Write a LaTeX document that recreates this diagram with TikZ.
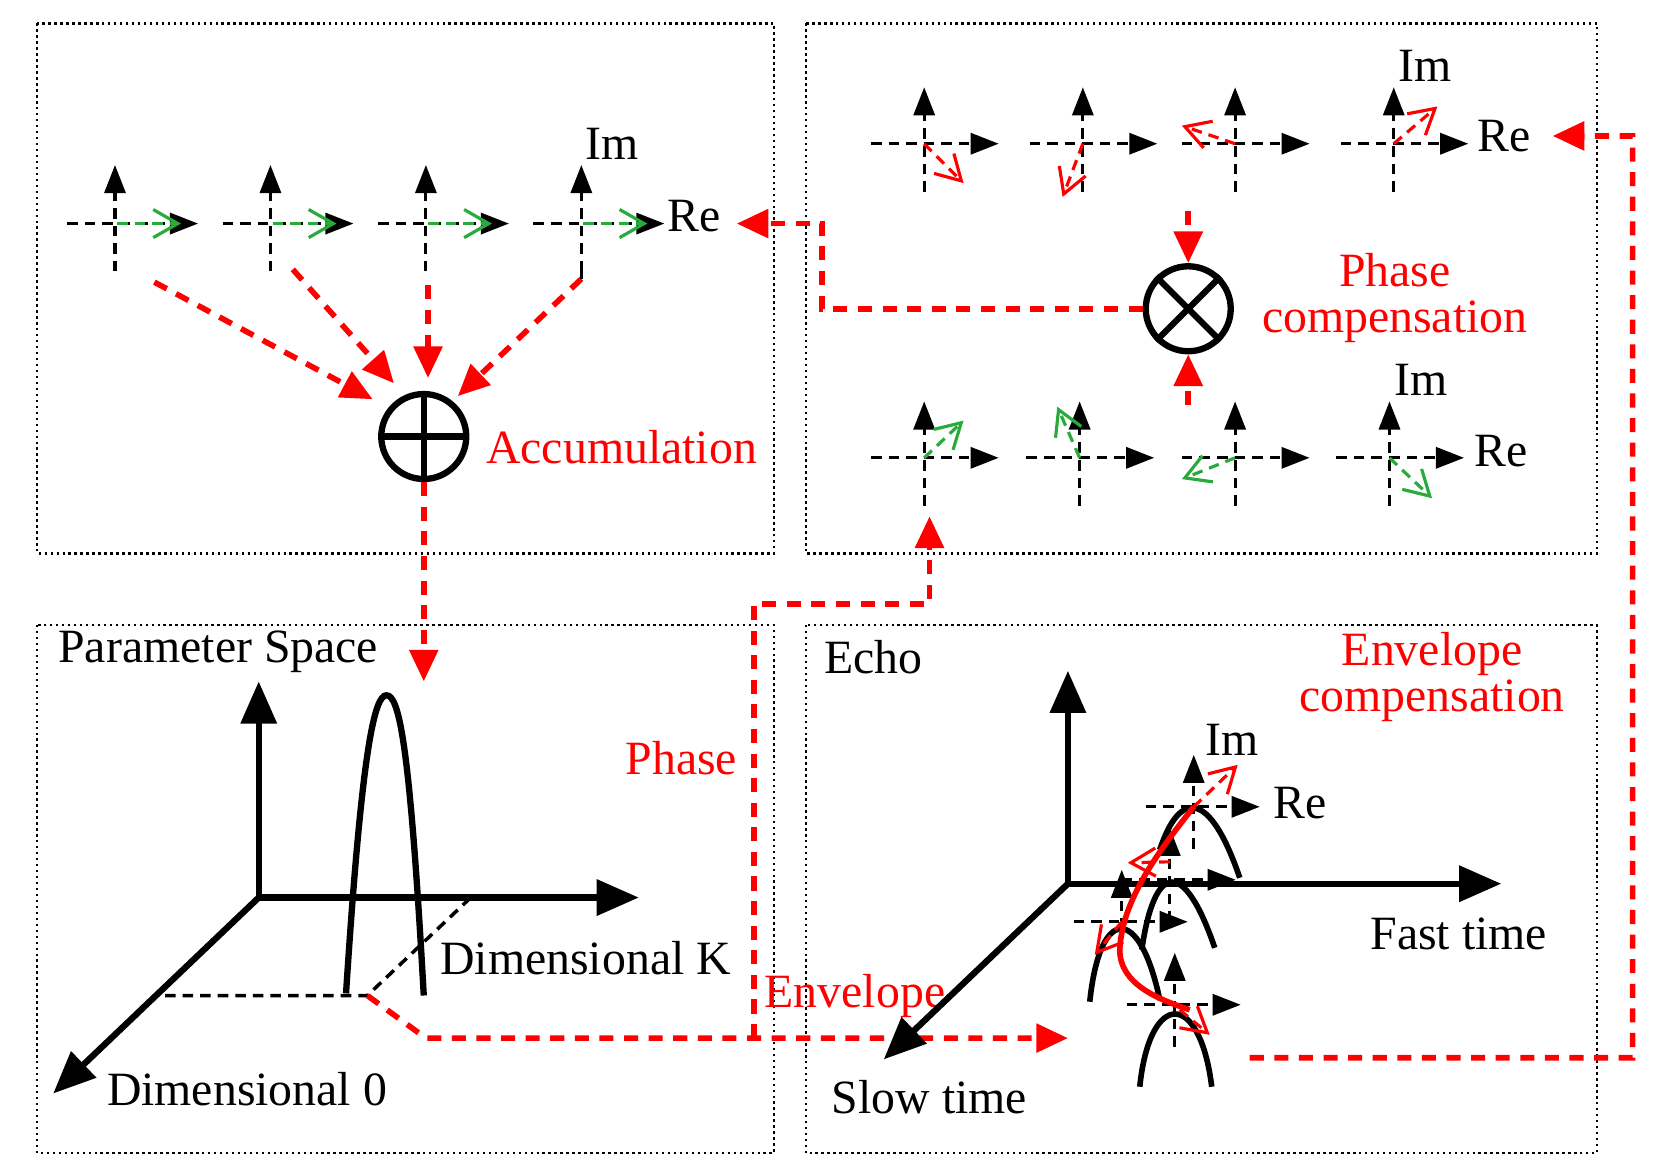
\documentclass[tikz,border=0pt]{standalone}
\usepackage{fontspec}
\setmainfont{Liberation Serif}
\usetikzlibrary{arrows.meta}
\definecolor{gr}{RGB}{40,170,60}
\begin{document}
\begin{tikzpicture}[x=0.01065cm,y=-0.01065cm,
 box/.style={densely dotted,line width=0.7pt},
 ax/.style={densely dashed,line width=0.9pt,-{Triangle[length=8pt,width=6pt]}},
 vv/.style={line width=0.9pt,dash pattern=on 3pt off 2pt,-{Straight Barb[length=7pt,width=8pt]}},
 rd/.style={red,line width=1.6pt,dash pattern=on 4pt off 3pt},
 rda/.style={rd,-{Triangle[length=9pt,width=8pt]}},
 big/.style={line width=1.8pt,-{Triangle[length=12pt,width=10pt]}},
 lab/.style={font=\fontsize{13.6}{16}\selectfont},
 rlab/.style={lab,text=red,align=center},
 oc/.style={circle,draw,line width=1.8pt,minimum size=0.85cm,inner sep=0pt}]
\useasboundingbox (0,0) rectangle (1560,1093);
\draw[box] (35,22) rectangle (727,520);
\draw[box] (757,22) rectangle (1500,520);
\draw[box] (35,587) rectangle (727,1083);
\draw[box] (757,587) rectangle (1500,1083);
% TL small axes
\foreach \x/\n in {108/a,254/b,400/c,546/d}{
 \coordinate (\n) at (\x,210);
 \draw[ax] (\x-45,210) -- (\x+78,210);
 \draw[ax] (\x,255) -- (\x,155);
 \draw[vv,gr] (\x+2,210) -- (\x+62,210);
}
\node[lab] (im1) at (575,135) {Im};
\node[lab] (re1) at (652,203) {Re};
\node[oc] (sum) at (398,410) {};
\draw[line width=1.8pt] (sum.north) -- (sum.south) (sum.west) -- (sum.east);
\node[rlab,anchor=west] (acc) at (445,420) {Accumulation};
\draw[rda] (145,265) -- (350,375);
\draw[rda] (275,253) -- (370,360);
\draw[rda] (402,268) -- (402,355);
\draw[rda] (546,262) -- (430,372);
\draw[densely dashed,line width=0.9pt] (546,255) -- (546,262);
\draw[rda] (sum.south) -- (398,640);
% TR
\foreach \x/\dx/\dy/\n in {868/37/37/e,1017/-19/50/f,1160/-50/-17/g,1309/41/-35/h}{
 \coordinate (\n) at (\x,135);
 \draw[ax] (\x-50,135) -- (\x+70,135);
 \draw[ax] (\x,180) -- (\x,82);
 \draw[vv,red] (\x,135) -- ++(\dx,\dy);
}
\node[lab] (im2) at (1338,62) {Im};
\node[lab] (re2) at (1413,128) {Re};
\foreach \x/\dx/\dy/\n in {868/37/-35/i,1014/-21/-48/j,1160/-50/20/k,1305/40/38/l}{
 \coordinate (\n) at (\x,430);
 \draw[ax] (\x-50,430) -- (\x+70,430);
 \draw[ax] (\x,475) -- (\x,377);
 \draw[vv,gr] (\x,430) -- ++(\dx,\dy);
}
\node[lab] (im3) at (1335,357) {Im};
\node[lab] (re3) at (1410,424) {Re};
\node[oc] (prod) at (1116,290) {};
\draw[line width=1.8pt] (prod.45) -- (prod.225) (prod.135) -- (prod.315);
\node[rlab] (pc) at (1310,280) {Phase\\[-3pt]compensation};
\draw[rda] (1116,198) -- (prod.north);
\draw[rda] (1116,380) -- (prod.south);
\coordinate (c1) at (772,290);
\coordinate (c2) at (772,210);
\draw[rda] (prod.west) -- (c1) -- (c2) -- (692,210);
% BL
\node[lab] (ps) at (205,612) {Parameter Space};
\coordinate (o1) at (243,843);
\draw[big] (o1) -- (243,640);
\draw[big] (o1) -- (600,843);
\draw[big] (o1) -- (50,1027);
\draw[line width=1.8pt] (325,933) .. controls (340,700) and (352,653) .. (363,653) .. controls (375,653) and (385,700) .. (398,935);
\draw[densely dashed,line width=1pt] (155,935) -- (345,935) -- (440,845);
\node[lab] (dk) at (550,900) {Dimensional K};
\node[lab] (d0) at (232,1023) {Dimensional 0};
\node[lab,text=red] (ph) at (640,712) {Phase};
\node[lab,text=red] (en) at (803,935) {Envelope};
\coordinate (e1) at (400,975);
\coordinate (v1) at (708,975);
\coordinate (v2) at (708,567);
\coordinate (v3) at (873,567);
\draw[rda] (345,935) -- (e1) -- (1003,975);
\draw[rda] (v1) -- (v2) -- (v3) -- (873,485);
% BR
\node[lab] (echo) at (820,617) {Echo};
\coordinate (o2) at (1003,830);
\draw[big] (o2) -- (1003,630);
\draw[big] (o2) -- (1410,830);
\draw[big] (o2) -- (830,995);
\node[lab] (slow) at (873,1030) {Slow time};
\node[lab] (fast) at (1370,877) {Fast time};
\node[rlab] (ec) at (1345,636) {Envelope\\[-3pt]compensation};
\begin{scope}[scale=0.939]
 \foreach \ax/\ay/\n in {1194/807/p,1170/880/q,1122/922/r,1175/1005/s}{
  \coordinate (\n) at (\ax,\ay);
  \draw[ax] (\ax-48,\ay) -- (\ax+66,\ay);
  \draw[ax] (\ax,\ay+42) -- (\ax,\ay-52);
 }
 \node[lab] (im4) at (1232,740) {Im};
 \node[lab] (re4) at (1300,803) {Re};
 \draw[line width=1.6pt] (1160,850) .. controls (1180,790) and (1210,790) .. (1240,878);
 \draw[line width=1.6pt] (1142,950) .. controls (1155,860) and (1185,860) .. (1215,948);
 \draw[line width=1.6pt] (1090,1002) .. controls (1100,905) and (1140,905) .. (1160,1000);
 \draw[line width=1.6pt] (1140,1087) .. controls (1150,990) and (1200,990) .. (1212,1087);
 \draw[red,line width=1.6pt] (1194,807) .. controls (1160,850) and (1122,900) .. (1120,950) .. controls (1120,985) and (1160,1000) .. (1190,1010);
 \draw[vv,red] (1194,807) -- (1238,765);
 \draw[vv,red] (1170,862) -- (1128,863);
 \draw[vv,red] (1122,922) -- (1095,955);
 \draw[vv,red] (1180,1010) -- (1210,1035);
 \coordinate (r1) at (1633,1058);
 \coordinate (r2) at (1633,136);
 \draw[rda] (1250,1058) -- (r1) -- (r2) -- (1553,136);
\end{scope}
\end{tikzpicture}
\end{document}
